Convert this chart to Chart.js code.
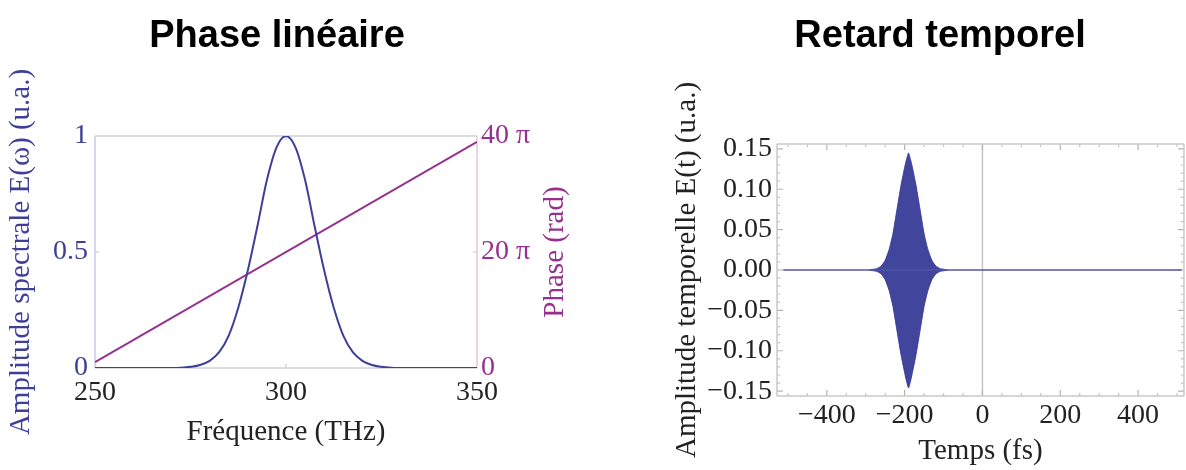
<!DOCTYPE html>
<html><head><meta charset="utf-8">
<script src="https://cdn.jsdelivr.net/npm/chart.js@4.4.1/dist/chart.umd.min.js"></script>
<style>
html,body{margin:0;padding:0;background:#fff;width:1186px;height:470px;overflow:hidden;}
#c1{position:absolute;left:0;top:0;}
#c2{position:absolute;left:593px;top:0;}
</style></head><body>
<canvas id="c1" width="593" height="470"></canvas>
<canvas id="c2" width="593" height="470"></canvas>
<script>
// ---------- Data: left panel (spectral domain) ----------
const freqTHz = [250, 255, 260, 265, 270, 272.5, 275, 277.5, 280, 282.5, 285, 287.5, 290, 292.5, 295, 297.5, 300,
                 302.5, 305, 307.5, 310, 312.5, 315, 317.5, 320, 322.5, 325, 327.5, 330, 335, 340, 345, 350];
const spectralAmplitude = [0, 0, 0, 0, 0, 0.001, 0.005, 0.013, 0.031, 0.068, 0.14, 0.26, 0.42, 0.61, 0.81, 0.95, 1.0,
                 0.95, 0.81, 0.61, 0.42, 0.26, 0.14, 0.068, 0.031, 0.013, 0.005, 0.001, 0, 0, 0, 0, 0];
const phaseFreqTHz = [250, 350];
const phaseInPi = [1, 39];           // phase in units of pi rad
const freqTicks = [250, 300, 350];
const amplitudeTicks = [0, 0.5, 1];
const phaseTicks = [0, 20, 40];

// ---------- Data: right panel (time domain) ----------
const timeFs = [-290, -280, -270, -260, -250, -240, -230, -220, -210, -200, -195, -190, -185, -180,
                -170, -160, -150, -140, -130, -120, -110, -100, -90];
const envelopeUpper = [0, 0.001, 0.002, 0.005, 0.012, 0.025, 0.045, 0.074, 0.103, 0.127, 0.137, 0.145, 0.137, 0.127,
                0.103, 0.074, 0.045, 0.025, 0.012, 0.005, 0.002, 0.001, 0];
const envelopeLower = [0, -0.001, -0.002, -0.005, -0.012, -0.025, -0.045, -0.074, -0.103, -0.127, -0.138, -0.146, -0.138, -0.127,
                -0.103, -0.074, -0.045, -0.025, -0.012, -0.005, -0.002, -0.001, 0];
const baselineTimeFs = [-512, 512];
const baselineValue = [0, 0];
const timeTicks = [-400, -200, 0, 200, 400];
const fieldTicks = [-0.15, -0.10, -0.05, 0, 0.05, 0.10, 0.15];

// ---------- Styling ----------
const BLUE = '#3d3f99';
const PURPLE = '#96308f';
const SERIF = "'Liberation Serif', 'DejaVu Serif', serif";
const SANS = "'Liberation Sans', Arial, sans-serif";
Chart.defaults.font.family = SERIF;
Chart.defaults.color = '#222';

const pts = (xs, ys) => xs.map((x, i) => ({x, y: ys[i]}));
const setTicks = arr => s => { s.ticks = arr.map(v => ({value: v})); };
const fmtSigned = v => (v < 0 ? '\u2212' : '') + Math.abs(v).toFixed(2);
const noGrid = {display: false, drawTicks: false, tickLength: 0};

// Frame / inward ticks / zero lines / extra rotated title
const framePlugin = {
  id: 'frame',
  beforeDatasetsDraw(chart, args, o) {
    const {ctx, chartArea: a} = chart;
    ctx.save();
    (o.zero || []).forEach(z => {
      const s = chart.scales[z.scale];
      const p = s.getPixelForValue(z.value);
      ctx.strokeStyle = z.color; ctx.lineWidth = z.width;
      ctx.beginPath();
      if (s.isHorizontal()) { ctx.moveTo(p, a.top); ctx.lineTo(p, a.bottom); }
      else { ctx.moveTo(a.left, p); ctx.lineTo(a.right, p); }
      ctx.stroke();
    });
    (o.ticks || []).forEach(t => {
      const s = chart.scales[t.scale];
      ctx.strokeStyle = t.color; ctx.lineWidth = 1.2;
      t.values.forEach(v => {
        const p = s.getPixelForValue(v);
        ctx.beginPath();
        if (s.isHorizontal()) {
          ctx.moveTo(p, a.bottom); ctx.lineTo(p, a.bottom - t.len);
          ctx.moveTo(p, a.top); ctx.lineTo(p, a.top + t.len);
        } else {
          if (t.side !== 'right') { ctx.moveTo(a.left, p); ctx.lineTo(a.left + t.len, p); }
          if (t.side !== 'left') { ctx.moveTo(a.right, p); ctx.lineTo(a.right - t.len, p); }
        }
        ctx.stroke();
      });
    });
    const sd = o.sides;
    ctx.lineWidth = 1.5;
    const line = (c, x1, y1, x2, y2) => { ctx.strokeStyle = c; ctx.beginPath(); ctx.moveTo(x1, y1); ctx.lineTo(x2, y2); ctx.stroke(); };
    line(sd.top, a.left, a.top, a.right, a.top);
    line(sd.bottom, a.left, a.bottom, a.right, a.bottom);
    line(sd.left, a.left, a.top, a.left, a.bottom);
    line(sd.right, a.right, a.top, a.right, a.bottom);
    ctx.restore();
  },
  afterDraw(chart, args, o) {
    if (!o.extraTitle) return;
    const {ctx, chartArea: a} = chart;
    const e = o.extraTitle;
    ctx.save();
    ctx.translate(a.right + e.dx, (a.top + a.bottom) / 2);
    ctx.rotate(-Math.PI / 2);
    ctx.font = e.font; ctx.fillStyle = e.color;
    ctx.textAlign = 'center'; ctx.textBaseline = 'middle';
    ctx.fillText(e.text, 0, 0);
    ctx.restore();
  }
};
const titleShift = {
  id: 'titleShift',
  afterLayout(chart, args, o) {
    const tb = chart.titleBlock;
    if (!tb || o.center == null) return;
    const w = tb.right - tb.left;
    tb.left = o.center - w / 2; tb.right = o.center + w / 2;
  }
};

const tickFont = {family: SERIF, size: 28};
const axTitleFont = {family: SERIF, size: 29};

// ---------- Left chart ----------
new Chart(document.getElementById('c1'), {
  type: 'line',
  data: {
    datasets: [
      {label: 'Amplitude spectrale', data: pts(freqTHz, spectralAmplitude), yAxisID: 'y',
       borderColor: BLUE, borderWidth: 2, pointRadius: 0, cubicInterpolationMode: 'monotone', fill: false},
      {label: 'Phase', data: pts(phaseFreqTHz, phaseInPi), yAxisID: 'y1',
       borderColor: PURPLE, borderWidth: 2, pointRadius: 0, fill: false}
    ]
  },
  options: {
    responsive: false, animation: false,
    layout: {padding: 0},
    plugins: {
      legend: {display: false}, tooltip: {enabled: false},
      title: {display: true, text: 'Phase linéaire', color: '#000',
              font: {family: SANS, size: 38, weight: 'bold'}, padding: {top: 14, bottom: 76.4}},
      titleShift: {center: 277},
      frame: {
        sides: {top: '#d2d2d2', bottom: '#d2d2d2', left: '#c9cbea', right: '#e3c6e1'},
        ticks: [
          {scale: 'x', values: [300], len: 4, color: '#c8c8c8'},
          {scale: 'y', values: [0.5], len: 4, color: '#c9cbea', side: 'left'},
          {scale: 'y1', values: [20], len: 4, color: '#e3c6e1', side: 'right'}
        ],
        extraTitle: {text: 'Phase (rad)', dx: 78, color: PURPLE, font: "29px 'Liberation Serif'"}
      }
    },
    scales: {
      x: {type: 'linear', min: 250, max: 350, afterBuildTicks: setTicks(freqTicks),
          afterFit: s => { s.height = 102; },
          grid: noGrid, border: {display: false},
          ticks: {font: tickFont, color: '#222', padding: 8, maxRotation: 0, autoSkip: false},
          title: {display: true, text: 'Fréquence (THz)', font: axTitleFont, color: '#222', padding: {top: 0, bottom: 20}}},
      y: {type: 'linear', position: 'left', min: 0, max: 1, afterBuildTicks: setTicks(amplitudeTicks),
          afterFit: s => { s.width = 95; },
          grid: noGrid, border: {display: false},
          ticks: {font: tickFont, color: BLUE, padding: 7, callback: v => String(v)},
          title: {display: true, text: 'Amplitude spectrale E(ω) (u.a.)', font: axTitleFont, color: BLUE, padding: {top: 4, bottom: 0}}},
      y1: {type: 'linear', position: 'right', min: 0, max: 40, afterBuildTicks: setTicks(phaseTicks),
          afterFit: s => { s.width = 116; },
          grid: noGrid, border: {display: false},
          ticks: {font: tickFont, color: PURPLE, padding: 4, callback: v => v === 0 ? '0' : v + ' π'},
          title: {display: false}}
    }
  },
  plugins: [framePlugin, titleShift]
});

// ---------- Right chart ----------
new Chart(document.getElementById('c2'), {
  type: 'line',
  data: {
    datasets: [
      {label: 'base', data: pts(baselineTimeFs, baselineValue), borderColor: 'rgba(80,84,165,0.75)',
       borderWidth: 2, pointRadius: 0, fill: false},
      {label: 'E(t) +', data: pts(timeFs, envelopeUpper), borderColor: 'rgba(55,58,150,0.9)', borderWidth: 1,
       backgroundColor: 'rgba(52,55,148,0.93)', pointRadius: 0, fill: '+1', tension: 0.15},
      {label: 'E(t) -', data: pts(timeFs, envelopeLower), borderColor: 'rgba(55,58,150,0.9)', borderWidth: 1,
       pointRadius: 0, fill: false, tension: 0.15}
    ]
  },
  options: {
    responsive: false, animation: false,
    layout: {padding: {left: 0, right: 2, top: 0, bottom: 0}},
    plugins: {
      legend: {display: false}, tooltip: {enabled: false},
      title: {display: true, text: 'Retard temporel', color: '#000',
              font: {family: SANS, size: 38, weight: 'bold'}, padding: {top: 14, bottom: 84.4}},
      titleShift: {center: 347},
      frame: {
        sides: {top: '#c8c8c8', bottom: '#c8c8c8', left: '#c8c8c8', right: '#c8c8c8'},
        zero: [{scale: 'x', value: 0, color: '#c4c4c4', width: 1.5}],
        ticks: [
          {scale: 'x', values: timeTicks, len: 6, color: '#b4b4b4'},
          {scale: 'x', values: [-500, -450, -350, -300, -250, -150, -100, -50, 50, 100, 150, 250, 300, 350, 450, 500], len: 3, color: '#c4c4c4'},
          {scale: 'y', values: fieldTicks, len: 6, color: '#b4b4b4'},
          {scale: 'y', values: [-0.14, -0.13, -0.12, -0.11, -0.09, -0.08, -0.07, -0.06, -0.04, -0.03, -0.02, -0.01,
                                0.01, 0.02, 0.03, 0.04, 0.06, 0.07, 0.08, 0.09, 0.11, 0.12, 0.13, 0.14], len: 3, color: '#c4c4c4'}
        ]
      }
    },
    scales: {
      x: {type: 'linear', min: -528, max: 518, afterBuildTicks: setTicks(timeTicks),
          afterFit: s => { s.height = 74; },
          grid: noGrid, border: {display: false},
          ticks: {font: tickFont, color: '#222', padding: 3, maxRotation: 0, autoSkip: false,
                  callback: v => (v < 0 ? '\u2212' : '') + Math.abs(v)},
          title: {display: true, text: 'Temps (fs)', font: axTitleFont, color: '#222', padding: {top: 0, bottom: 1}}},
      y: {type: 'linear', position: 'left', min: -0.156, max: 0.156, afterBuildTicks: setTicks(fieldTicks),
          afterFit: s => { s.width = 184; },
          grid: noGrid, border: {display: false},
          ticks: {font: tickFont, color: '#222', padding: 5, callback: fmtSigned},
          title: {display: true, text: 'Amplitude temporelle E(t) (u.a.)', font: axTitleFont, color: '#222', padding: {top: 77, bottom: 0}}}
    }
  },
  plugins: [framePlugin, titleShift]
});
</script>
</body></html>
